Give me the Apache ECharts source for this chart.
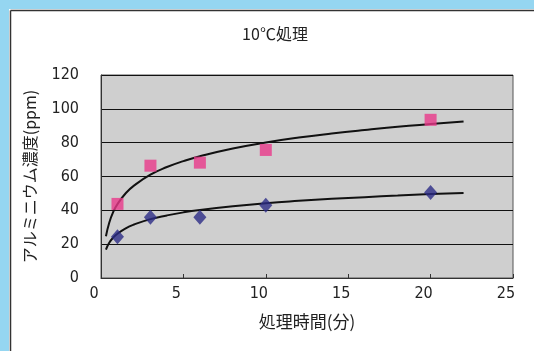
<!DOCTYPE html>
<html><head><meta charset="utf-8">
<script src="https://cdn.jsdelivr.net/npm/echarts@6/dist/echarts.min.js"></script>
<style>html,body{margin:0;padding:0;background:#fff}#c{width:534px;height:351px}</style>
</head><body><div id="c"></div>
<script>
// measured data
const timeMin = [1, 3, 6, 10, 20];
const seriesA = [43.8, 66.4, 68.2, 75.7, 93.5];   // pink squares
const seriesB = [24.4, 35.9, 35.9, 43.0, 50.5];   // blue diamonds
// trendline points
const trendX = [0.3, 0.5, 0.75, 1, 1.5, 2, 3, 4, 5, 6, 8, 10, 12, 14, 16, 18, 20, 22];
const trendA = [24.7, 32.7, 39.2, 43.7, 50.1, 54.6, 61.1, 65.6, 69.1, 72.0, 76.6, 80.1, 83.0, 85.4, 87.5, 89.4, 91.0, 92.5];
const trendB = [16.8, 20.8, 24.0, 26.2, 29.4, 31.6, 34.8, 37.0, 38.8, 40.2, 42.4, 44.2, 45.6, 46.8, 47.8, 48.7, 49.6, 50.3];
const titleText = '10℃処理';
const xName = '処理時間(分)';
const yName = 'アルミニウム濃度(ppm)';

const pair = (xs, ys) => xs.map((x, i) => [x, ys[i]]);
const numFont = '"DejaVu Sans Condensed","Liberation Sans Narrow",sans-serif';
const cjk = '"Noto Sans CJK JP",sans-serif';
const chart = echarts.init(document.getElementById('c'), null, {renderer: 'canvas'});
chart.setOption({
  animation: false,
  backgroundColor: '#ffffff',
  graphic: [
    {type: 'rect', z: -10, shape: {x: 0, y: 0, width: 534, height: 9}, style: {fill: '#95d6f1'}},
    {type: 'rect', z: -10, shape: {x: 0, y: 0, width: 9, height: 351}, style: {fill: '#95d6f1'}},
    {type: 'line', z: -5, shape: {x1: 10.5, y1: 10.5, x2: 534, y2: 10.5}, style: {stroke: '#333', lineWidth: 1.5}},
    {type: 'line', z: -5, shape: {x1: 10.5, y1: 10.5, x2: 10.5, y2: 351}, style: {stroke: '#333', lineWidth: 1.5}}
  ],
  title: {
    text: titleText, left: 270, top: 21, textAlign: 'center',
    textStyle: {fontFamily: cjk, fontSize: 16, fontWeight: 'normal', color: '#222'}
  },
  grid: {left: 101, right: 21, top: 75, bottom: 73, show: true, backgroundColor: '#cfcfcf', borderColor: '#555', borderWidth: 1},
  xAxis: {
    type: 'value', min: 0, max: 25, interval: 5,
    name: xName, nameLocation: 'middle', nameGap: 35,
    nameTextStyle: {fontFamily: cjk, fontSize: 17, color: '#222'},
    axisLine: {show: true, lineStyle: {color: '#333'}},
    axisTick: {show: true, inside: true, length: 4, lineStyle: {color: '#333'}},
    splitLine: {show: false},
    axisLabel: {fontFamily: numFont, fontSize: 16, color: '#222', margin: 8, padding: [0, 14, 0, 0]}
  },
  yAxis: {
    type: 'value', min: 0, max: 120, interval: 20,
    name: yName, nameLocation: 'middle', nameGap: 63, nameRotate: 90,
    nameTextStyle: {fontFamily: cjk, fontSize: 16, color: '#222'},
    axisLine: {show: true, lineStyle: {color: '#333'}},
    axisTick: {show: false},
    splitLine: {show: true, lineStyle: {color: '#111', width: 1}},
    axisLabel: {fontFamily: numFont, fontSize: 16, color: '#222', margin: 22}
  },
  series: [
    {type: 'line', data: pair(trendX, trendA), smooth: true, showSymbol: false, lineStyle: {color: '#111', width: 2}, z: 2, silent: true},
    {type: 'line', data: pair(trendX, trendB), smooth: true, showSymbol: false, lineStyle: {color: '#111', width: 2}, z: 2, silent: true},
    {type: 'scatter', data: pair(timeMin, seriesA), symbol: 'rect', symbolSize: 12, itemStyle: {color: '#e8388a'}, z: 3},
    {type: 'scatter', data: pair(timeMin, seriesB), symbol: 'diamond', symbolSize: [13, 15], itemStyle: {color: '#2c2c86'}, z: 3}
  ]
});
</script></body></html>
